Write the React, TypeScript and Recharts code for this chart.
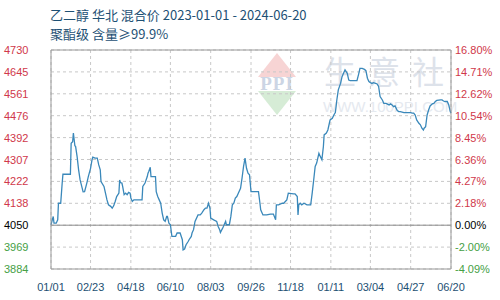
import React from "react";
import { LineChart, Line, XAxis, YAxis, CartesianGrid, ReferenceLine } from "recharts";

// day offset from 2023-01-01 and 华北 混合价 (元/吨)
const days = [
  0, 3, 4, 7, 9, 10, 13, 15, 16, 26, 27, 29, 30, 32, 33, 35, 37, 39, 43, 45,
  48, 50, 53, 55, 56, 59, 62, 64, 66, 67, 71, 73, 75, 77, 80, 82, 84, 86, 88, 91,
  92, 93, 95, 96, 98, 100, 102, 104, 106, 107, 109, 111, 122, 123, 126, 129, 130, 131, 133, 134,
  140, 141, 143, 145, 147, 149, 151, 153, 155, 156, 158, 160, 162, 167, 169, 173, 176, 177, 179, 181,
  184, 185, 188, 189, 191, 193, 197, 200, 202, 205, 207, 209, 211, 213, 214, 218, 222, 224, 226, 227,
  230, 231, 234, 235, 239, 241, 243, 245, 247, 249, 251, 254, 256, 258, 260, 262, 264, 266, 268, 278,
  280, 281, 284, 289, 294, 298, 301, 302, 305, 310, 312, 314, 316, 318, 325, 327, 330, 331, 332, 334,
  336, 339, 343, 348, 350, 352, 354, 356, 359, 361, 363, 365, 366, 369, 371, 373, 374, 377, 379, 381,
  382, 383, 385, 388, 390, 392, 394, 397, 399, 401, 410, 412, 414, 417, 420, 422, 424, 426, 428, 430,
  432, 435, 437, 439, 441, 444, 446, 449, 453, 455, 457, 459, 461, 464, 466, 468, 473, 482, 484, 486,
  488, 490, 493, 495, 497, 499, 500, 502, 504, 506, 508, 511, 513, 515, 517, 522, 524, 526, 528, 531,
  533, 535, 536,
];
const prices = [
  4055, 4087, 4061, 4061, 4074, 4138, 4138, 4216, 4250, 4250, 4370, 4376, 4409, 4360, 4357, 4318, 4267, 4228, 4182, 4183,
  4216, 4241, 4273, 4306, 4316, 4312, 4312, 4286, 4267, 4222, 4203, 4177, 4151, 4132, 4126, 4119, 4128, 4145, 4164, 4177,
  4228, 4218, 4216, 4203, 4171, 4177, 4171, 4180, 4177, 4158, 4145, 4151, 4151, 4203, 4216, 4241, 4254, 4261, 4277, 4241,
  4241, 4183, 4164, 4151, 4138, 4100, 4074, 4068, 4087, 4087, 4061, 4055, 4010, 4010, 4023, 4023, 3997, 3958, 3961, 3978,
  3991, 3997, 4010, 4023, 4036, 4068, 4093, 4093, 4100, 4113, 4119, 4119, 4138, 4119, 4081, 4074, 4068, 4048, 4036, 4025,
  4042, 4048, 4068, 4055, 4055, 4087, 4132, 4138, 4158, 4164, 4177, 4196, 4235, 4280, 4312, 4273, 4254, 4248, 4183, 4183,
  4138, 4113, 4093, 4093, 4096, 4096, 4074, 4132, 4132, 4138, 4138, 4145, 4151, 4177, 4174, 4174, 4164, 4093, 4132, 4138,
  4132, 4138, 4132, 4132, 4177, 4228, 4280, 4293, 4331, 4318, 4306, 4357, 4402, 4409, 4421, 4447, 4460, 4466, 4479, 4488,
  4511, 4537, 4576, 4601, 4627, 4640, 4653, 4640, 4614, 4612, 4612, 4634, 4659, 4659, 4655, 4650, 4621, 4608, 4604, 4601,
  4604, 4601, 4599, 4589, 4550, 4537, 4524, 4524, 4518, 4522, 4518, 4511, 4514, 4496, 4492, 4492, 4488, 4488, 4486, 4486,
  4479, 4460, 4447, 4441, 4428, 4421, 4428, 4434, 4479, 4498, 4514, 4522, 4524, 4531, 4535, 4537, 4537, 4533, 4531, 4531,
  4518, 4492, 4486,
];

const tickDays = [0, 53, 107, 160, 214, 268, 321, 375, 428, 482, 536];
const tickLabels = ["01/01", "02/23", "04/18", "06/10", "08/03", "09/26", "11/18", "01/11", "03/04", "04/27", "06/20"];
const leftLabels = ["3884", "3969", "4050", "4138", "4222", "4307", "4392", "4476", "4561", "4645", "4730"];
const rightLabels = ["-4.09%", "-2.00%", "0.00%", "2.18%", "4.27%", "6.36%", "8.45%", "10.54%", "12.62%", "14.71%", "16.80%"];

const yMin = 3884;
const yMax = 4730;
const yTicks = leftLabels.map((_, i) => yMin + ((yMax - yMin) * i) / 10);
const zeroIndex = 2;

const data = days.map((d, i) => ({ day: d, price: prices[i] }));

const labelFont = "'Liberation Sans', Arial, sans-serif";
const labelColor = (i: number) => (i > zeroIndex ? "#d0384a" : i === zeroIndex ? "#000" : "#45a045");

const tickIndex = (v: number) => {
  let best = 0;
  yTicks.forEach((t, i) => {
    if (Math.abs(t - v) < Math.abs(yTicks[best] - v)) best = i;
  });
  return best;
};

const LeftTick = ({ y, payload }: any) => {
  const i = tickIndex(payload.value);
  return (
    <text x={4} y={y} dy={4} fontSize={11} fontFamily={labelFont} fill={labelColor(i)} textAnchor="start">
      {leftLabels[i]}
    </text>
  );
};

const RightTick = ({ y, payload }: any) => {
  const i = tickIndex(payload.value);
  return (
    <text x={455} y={y} dy={4} fontSize={11} fontFamily={labelFont} fill={labelColor(i)} textAnchor="start">
      {rightLabels[i]}
    </text>
  );
};

const BottomTick = ({ x, payload }: any) => {
  const i = tickDays.indexOf(payload.value);
  return (
    <text x={x} y={291} fontSize={11} fontFamily={labelFont} fill="#1d4f72" textAnchor="middle">
      {tickLabels[i]}
    </text>
  );
};

export default function App() {
  return (
    <div style={{ position: "absolute", left: 0, top: 0, width: 500, height: 300, background: "#fff" }}>
      <svg width={500} height={300} style={{ position: "absolute", left: 0, top: 0 }}>
        <text x={50} y={20} fontSize={13} fill="#1d5074" fontFamily="'Noto Sans CJK SC', sans-serif">
          乙二醇 华北 混合价 2023-01-01 - 2024-06-20
        </text>
        <text x={50} y={39} fontSize={13} fill="#1d5074" fontFamily="'Noto Sans CJK SC', sans-serif">
          聚酯级 含量≥99.9%
        </text>
        <polygon points="277,53 296,77 258,77" fill="#f7d4d4" />
        <polygon points="258,91 296,91 277,115" fill="#d6ecd6" />
        <text x={277} y={90} fontSize={19} fontWeight="bold" fill="#ccd5e4" textAnchor="middle" fontFamily="'Liberation Serif', serif" letterSpacing={1}>
          PPI
        </text>
        <text x={324} y={84} fontSize={32} fill="#dde2ea" letterSpacing={12} fontFamily="'Noto Sans CJK SC', sans-serif">
          生意社
        </text>
        <text x={323} y={112} fontSize={15} fill="#e5e9ef" fontFamily={labelFont}>
          WWW.100PPI.COM
        </text>
      </svg>
      <div style={{ position: "absolute", left: 0, top: 0 }}>
        <LineChart width={500} height={300} data={data} margin={{ top: 50, right: 0, bottom: 0, left: 0 }}>
          <CartesianGrid yAxisId="l" stroke="#c8c8c8" strokeDasharray="3 3" />
          <XAxis
            dataKey="day"
            type="number"
            domain={[0, 536]}
            ticks={tickDays}
            height={31}
            tickLine={false}
            axisLine={{ stroke: "#999" }}
            tick={<BottomTick />}
            interval={0}
          />
          <YAxis
            yAxisId="l"
            type="number"
            domain={[yMin, yMax]}
            ticks={yTicks}
            width={51}
            tickLine={false}
            axisLine={{ stroke: "#999" }}
            tick={<LeftTick />}
            interval={0}
            allowDataOverflow
          />
          <YAxis
            yAxisId="r"
            orientation="right"
            type="number"
            domain={[yMin, yMax]}
            ticks={yTicks}
            width={49}
            tickLine={false}
            axisLine={{ stroke: "#999" }}
            tick={<RightTick />}
            interval={0}
            allowDataOverflow
          />
          <ReferenceLine yAxisId="l" y={yMax} stroke="#999" />
          <ReferenceLine yAxisId="l" y={yTicks[zeroIndex]} stroke="#8c8c8c" />
          <Line
            yAxisId="l"
            type="linear"
            dataKey="price"
            stroke="#3a88ba"
            strokeWidth={1.3}
            dot={false}
            isAnimationActive={false}
          />
        </LineChart>
      </div>
    </div>
  );
}
